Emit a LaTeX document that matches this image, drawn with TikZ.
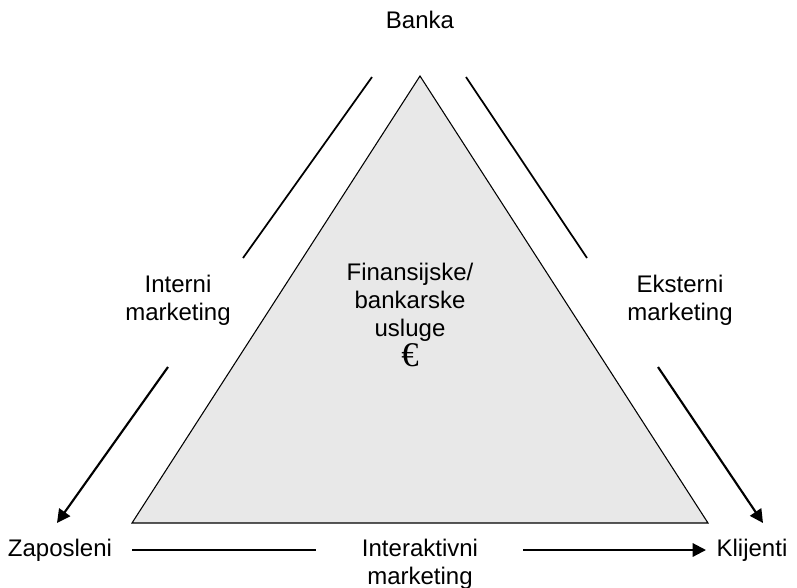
\documentclass[tikz,border=0pt]{standalone}
\usepackage{fontspec}
\setmainfont{Liberation Sans}
\newfontfamily\eurofont{Liberation Serif}
\usetikzlibrary{calc}
\usetikzlibrary{positioning}
\usetikzlibrary{arrows.meta}
\tikzstyle{lblnode} = [inner sep=0, align=center, font=\fontsize{18}{21}\selectfont]
\tikzstyle{tri} = [draw, line width=0.8pt, fill=black!9]
\tikzstyle{sideline} = [line width=1.3pt]
\tikzstyle{sidearrow} = [line width=1.6pt, -{Triangle[length=10pt,width=10pt]}]

\begin{document}
\begin{tikzpicture}[x=0.75pt, y=-0.75pt]
    \useasboundingbox (0,0) rectangle (797,587);

    % the triangle
    \coordinate (top) at (420,76);
    \coordinate (left) at (132,523);
    \coordinate (right) at (708,523);
    \draw[tri] (top) -- (left) -- (right) -- cycle;

    \node[lblnode] (usluge) at (410,315) {Finansijske/\\bankarske\\usluge\\[2pt]{\eurofont\fontsize{26}{28}\selectfont €}};

    % corners
    \node[lblnode, anchor=base] (banka) at (420,28) {Banka};
    \node[lblnode, anchor=base] (zaposleni) at (60,556) {Zaposleni};
    \node[lblnode, anchor=base] (klijenti) at (752,556) {Klijenti};

    % sides
    \node[lblnode] (int_mkt) at (178,300) {Interni\\marketing};
    \node[lblnode] (eks_mkt) at (680,300) {Eksterni\\marketing};
    \node[lblnode] (ia_mkt) at (420,564) {Interaktivni\\marketing};

    \coordinate (int_a) at (372,77);
    \coordinate (int_b) at (243,258);
    \coordinate (int_c) at (168,367);
    \coordinate (int_d) at (57,523);
    \draw[sideline] (int_a) -- (int_b);
    \draw[sidearrow] (int_c) -- (int_d);

    \coordinate (eks_a) at (466,77);
    \coordinate (eks_b) at (587,258);
    \coordinate (eks_c) at (658,367);
    \coordinate (eks_d) at (763,523);
    \draw[sideline] (eks_a) -- (eks_b);
    \draw[sidearrow] (eks_c) -- (eks_d);

    \coordinate (ia_a) at (132,550);
    \coordinate (ia_b) at (316,550);
    \coordinate (ia_c) at (523,550);
    \coordinate (ia_d) at (706,550);
    \draw[sideline] (ia_a) -- (ia_b);
    \draw[sidearrow] (ia_c) -- (ia_d);
\end{tikzpicture}
\end{document}
